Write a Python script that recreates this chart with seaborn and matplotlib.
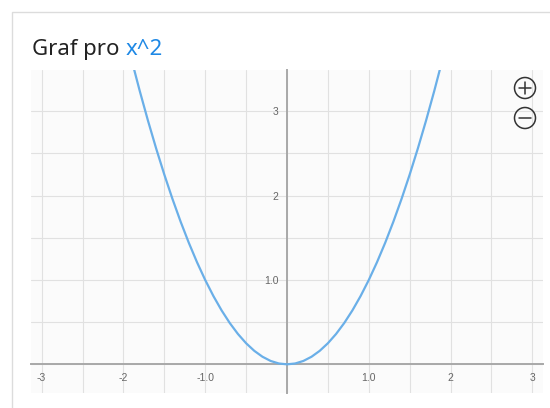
import matplotlib
matplotlib.use("Agg")
import matplotlib.pyplot as plt
import seaborn as sns
from matplotlib.patches import Circle, Rectangle
from matplotlib.lines import Line2D
from matplotlib.ticker import FixedLocator, MultipleLocator

# curve points of y = x^2
xs = [-1.9, -1.8, -1.7, -1.6, -1.5, -1.4, -1.3, -1.2, -1.1, -1.0,
      -0.9, -0.8, -0.7, -0.6, -0.5, -0.4, -0.3, -0.2, -0.1, 0.0,
      0.1, 0.2, 0.3, 0.4, 0.5, 0.6, 0.7, 0.8, 0.9, 1.0,
      1.1, 1.2, 1.3, 1.4, 1.5, 1.6, 1.7, 1.8, 1.9]
ys = [3.61, 3.24, 2.89, 2.56, 2.25, 1.96, 1.69, 1.44, 1.21, 1.0,
      0.81, 0.64, 0.49, 0.36, 0.25, 0.16, 0.09, 0.04, 0.01, 0.0,
      0.01, 0.04, 0.09, 0.16, 0.25, 0.36, 0.49, 0.64, 0.81, 1.0,
      1.21, 1.44, 1.69, 1.96, 2.25, 2.56, 2.89, 3.24, 3.61]

x_ticks = [-3, -2, -1, 1, 2, 3]
x_tick_labels = ["-3", "-2", "-1.0", "1.0", "2", "3"]
y_ticks = [1, 2, 3]
y_tick_labels = ["1.0", "2", "3"]

title_text = "Graf pro"
title_expr = "x^2"

sns.set_style("white")
plt.rcParams['font.family'] = ['Liberation Sans', 'DejaVu Sans']

W, H = 550, 408
fig = plt.figure(figsize=(W / 100, H / 100), dpi=100)

# card frame
fig.patches.append(Rectangle((12 / W, -0.1), 1.2, (H - 12) / H + 0.1,
                             transform=fig.transFigure, fill=False,
                             edgecolor="#dcdcdc", linewidth=1.0))

ax = fig.add_axes([31 / W, 15 / H, 512 / W, 323 / H])
ax.set_facecolor("#fbfbfb")

sns.lineplot(x=xs, y=ys, ax=ax, color="#6aafe8", linewidth=1.6, zorder=5)

ax.set_xlim(-3.13, 3.13)
ax.set_ylim(-0.34, 3.49)

ax.xaxis.set_major_locator(FixedLocator(x_ticks))
ax.set_xticklabels(x_tick_labels)
ax.yaxis.set_major_locator(FixedLocator(y_ticks))
ax.set_yticklabels(y_tick_labels)
ax.xaxis.set_minor_locator(MultipleLocator(0.5))
ax.yaxis.set_minor_locator(MultipleLocator(0.5))

ax.grid(which="both", color="#e1e1e1", linewidth=0.8)
ax.set_axisbelow(True)

for side in ["top", "right"]:
    ax.spines[side].set_visible(False)
ax.spines["left"].set_position(("data", 0))
ax.spines["bottom"].set_position(("data", 0))
for side in ["left", "bottom"]:
    ax.spines[side].set_color("#a8a8a8")
    ax.spines[side].set_linewidth(1.4)

ax.tick_params(which="major", direction="out", length=3, width=0.8,
               color="#b0b0b0", pad=3, labelsize=7.5, labelcolor="#666666")
ax.tick_params(which="minor", length=0)

# title in two colours
t1 = fig.text(32 / W, (H - 55) / H, title_text, fontsize=16,
              family=["Noto Sans", "DejaVu Sans"], color="#222222",
              va="baseline")
fig.canvas.draw()
bb = t1.get_window_extent()
fig.text((bb.x1 + 6) / W, (H - 55) / H, title_expr, fontsize=16,
         family=["Noto Sans", "DejaVu Sans"], color="#1e88e5",
         va="baseline")

# zoom buttons
for cy in [88, 118]:
    fig.patches.append(Circle((525 / 100, (H - cy) / 100), 0.105,
                              transform=fig.dpi_scale_trans, fill=False,
                              edgecolor="#333333", linewidth=1.1))
    fig.lines.append(Line2D([519 / 100, 531 / 100],
                            [(H - cy) / 100, (H - cy) / 100],
                            transform=fig.dpi_scale_trans,
                            color="#333333", linewidth=1.1))
fig.lines.append(Line2D([525 / 100, 525 / 100],
                        [(H - 88 - 6) / 100, (H - 88 + 6) / 100],
                        transform=fig.dpi_scale_trans,
                        color="#333333", linewidth=1.1))

fig.savefig("out.png", dpi=100)
